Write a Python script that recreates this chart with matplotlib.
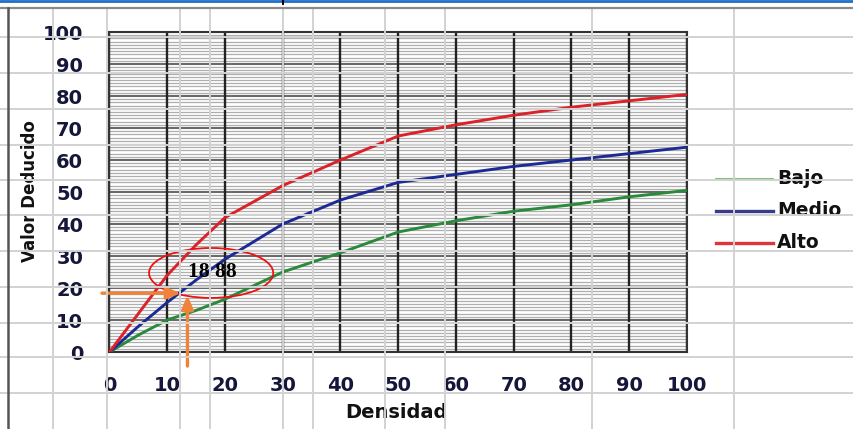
import matplotlib
matplotlib.use("Agg")
import matplotlib.pyplot as plt
from matplotlib.lines import Line2D
from matplotlib.patches import Ellipse
import numpy as np

# Curve data: deduct value vs. density for each severity level
densidad = [0, 5, 10, 15, 20, 30, 40, 50, 60, 70, 80, 90, 100]
bajo = [0, 5.3, 10, 13, 16.5, 25, 31, 37.5, 41, 44, 46, 48.5, 50.5]
medio = [0, 8, 15.5, 22.5, 29, 40, 47.5, 53, 55.5, 58, 60, 62, 64]
alto = [0, 12, 24, 33.5, 42, 52, 60, 67.5, 71, 74, 76.5, 78.5, 80.5]
series_names = ["Bajo", "Medio", "Alto"]

x_ticks = list(range(0, 101, 10))
y_ticks = list(range(0, 101, 10))

# Reading taken off the medium curve
lectura_x = 13.3
lectura_y = 18.88
lectura_texto = "18 88"

W, H = 854, 429
fig = plt.figure(figsize=(W / 100, H / 100), dpi=100)
fig.patch.set_facecolor("white")


def fx(px):
    return px / W


def fy(py):
    return 1 - py / H


left, right, top, bottom = 109.5, 687, 32, 352
ax = fig.add_axes([fx(left), fy(bottom), fx(right) - fx(left), fy(top) - fy(bottom)])
ax.set_xlim(0, 100)
ax.set_ylim(0, 100)

# striped background: minor horizontal lines, darker major lines
for v in np.arange(1, 100, 1):
    if v % 10 != 0:
        ax.axhline(v, color="#aeaeae", lw=0.9, zorder=0.5)
for v in y_ticks:
    ax.axhline(v, color="#6a6a6a", lw=1.5, zorder=0.6)
for v in x_ticks:
    ax.axvline(v, color="#222222", lw=1.7, zorder=0.7)

colors = {"Bajo": "#2a8a3c", "Medio": "#1c2a96", "Alto": "#dc2228"}
for name, vals in zip(series_names, [bajo, medio, alto]):
    ax.plot(densidad, vals, color=colors[name], lw=2.1, zorder=3,
            solid_capstyle="round")

for s in ax.spines.values():
    s.set_color("#333333")
    s.set_linewidth(1.5)

tick_font = dict(family="DejaVu Sans", weight="bold", size=14)
ax.set_xticks(x_ticks)
ax.set_yticks(y_ticks)
ax.set_xticklabels([str(t) for t in x_ticks], color="#15173a", **tick_font)
ax.set_yticklabels([str(t) for t in y_ticks], color="#15173a", **tick_font)
ax.tick_params(axis="x", length=0, pad=17)
ax.tick_params(axis="y", length=0, pad=19)

# axis titles
fig.text(fx(396), fy(412), "Densidad", family="DejaVu Sans", weight="bold",
         size=14, color="#111111", ha="center", va="center")
fig.text(fx(30), fy(191), "Valor Deducido", family="DejaVu Sans", weight="bold",
         size=12, color="#111111", ha="center", va="center", rotation=90)

# legend drawn by hand at the right side
leg_y = [179, 211, 243]
leg_lw = [1.3, 2.4, 2.4]
leg_col = ["#6cc070", "#3a3a8a", "#e0343a"]
for name, py, lw, c in zip(series_names, leg_y, leg_lw, leg_col):
    fig.add_artist(Line2D([fx(716), fx(773)], [fy(py), fy(py)], color=c, lw=lw))
    fig.text(fx(777), fy(py), name, family="DejaVu Sans", weight="bold",
             size=13.5, color="#111111", va="center", ha="left")

# annotation: ellipse, value, and reading arrows
ax.add_patch(Ellipse((17.6, 24.7), 21.5, 15.6, fill=False, edgecolor="#ee1111",
                     lw=1.3, zorder=5, clip_on=False))
ax.text(17.8, 25, lectura_texto, family="Liberation Serif", weight="bold",
        size=15.5, color="black", ha="center", va="center", zorder=6)
arrow = dict(arrowstyle="-|>,head_length=0.8,head_width=0.35", color="#f0823a",
             lw=2.4, shrinkA=0, shrinkB=0)
ax.annotate("", xy=(lectura_x - 1.0, lectura_y - 0.5), xytext=(-1.3, lectura_y - 0.5),
            arrowprops=arrow, annotation_clip=False, zorder=7)
ax.annotate("", xy=(lectura_x + 0.2, lectura_y - 1.2), xytext=(lectura_x + 0.2, -4.4),
            arrowprops=arrow, annotation_clip=False, zorder=7)

# sheet cell grid over the whole image
grid_c = "#d2d2d2"
for px in [53, 107, 180, 210, 283, 313, 385, 445, 592, 734]:
    fig.add_artist(Line2D([fx(px), fx(px)], [0, fy(9)], color=grid_c, lw=1.4, zorder=20))
for py in [37, 73, 109, 145, 180, 215, 251, 287, 323, 357, 393]:
    fig.add_artist(Line2D([0, 1], [fy(py), fy(py)], color=grid_c, lw=1.4, zorder=20))

# chart frame edges and selection bar
fig.add_artist(Line2D([0, 1], [fy(8), fy(8)], color="#8a8a8a", lw=1.6, zorder=21))
fig.add_artist(Line2D([fx(8), fx(8)], [0, fy(8)], color="#555555", lw=1.8, zorder=21))
fig.add_artist(Line2D([0, 1], [fy(1), fy(1)], color="#1f6fc8", lw=2.0, zorder=22))
fig.add_artist(Line2D([fx(283), fx(283)], [fy(0), fy(4)], color="black", lw=1.4, zorder=22))

fig.savefig("out.png", dpi=100)
